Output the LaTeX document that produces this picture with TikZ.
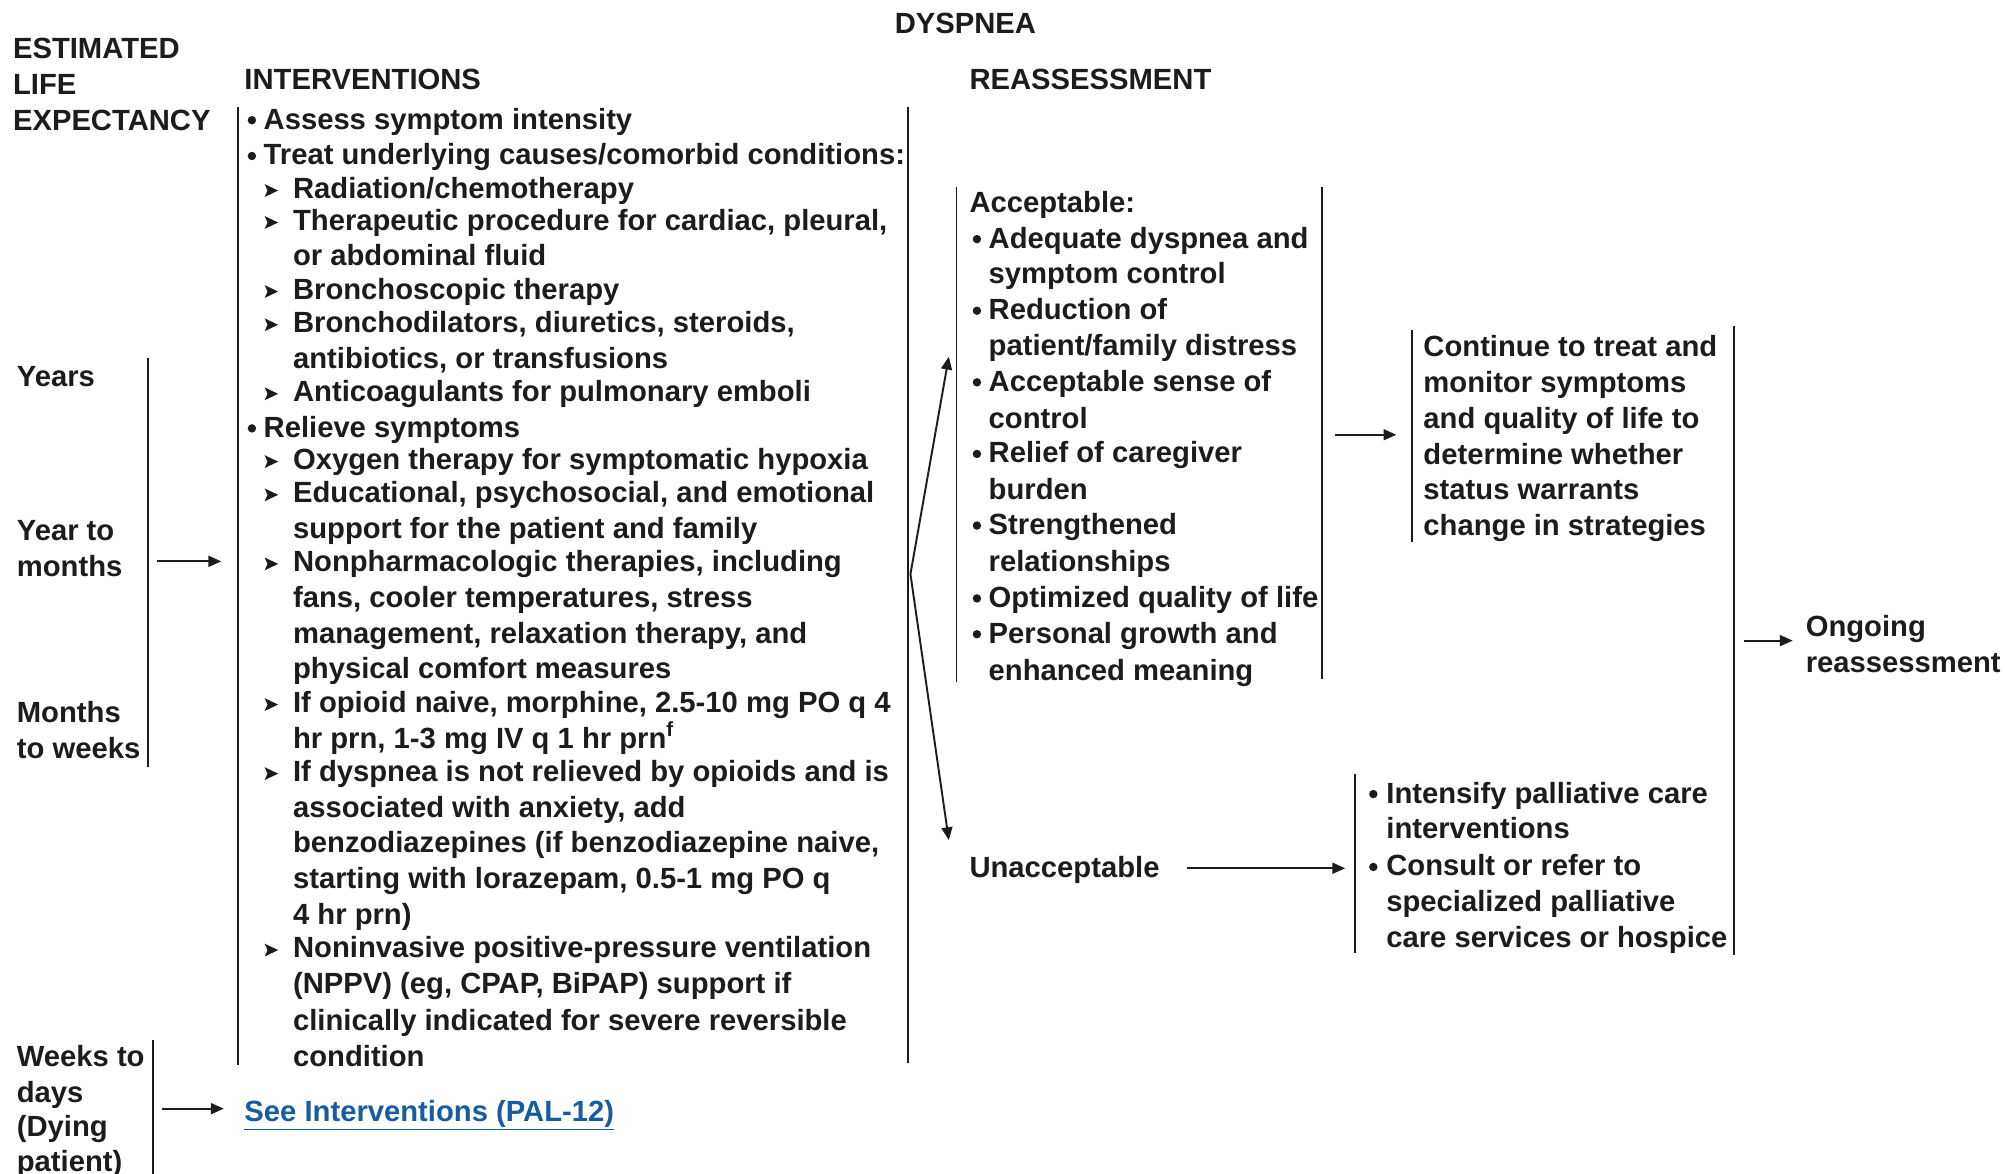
\documentclass[tikz,border=0pt]{standalone}
\usepackage{fontspec}
\setmainfont{Liberation Sans}
\usetikzlibrary{arrows.meta}
\definecolor{ink}{RGB}{30,27,28}
\definecolor{linkblue}{RGB}{22,92,160}
\tikzset{
  txt/.style={anchor=base west, inner sep=0pt, yshift=-8pt,
    font=\bfseries\fontsize{22.85}{28}\selectfont, text=ink},
  bar/.style={draw=ink, line width=1.5pt},
  flow/.style={draw=ink, line width=1.5pt, -{Triangle[length=10pt,width=8.5pt]}},
  subtip/.pic={\fill[ink] (-5,-5) -- (5.5,0) -- (-5,5) -- (-2.8,0) -- cycle;},
}
\newcommand\txtline[4]{\node[txt] (#1) at (#2,#3) {#4};}

\begin{document}
\begin{tikzpicture}[x=1pt,y=-1pt]
\useasboundingbox (0,0) rectangle (1568,918);

% headings
\node[txt, anchor=base] (title) at (755,18) {DYSPNEA};
\txtline{hEst}{10}{38}{ESTIMATED}
\txtline{hLife}{10}{66}{LIFE}
\txtline{hExp}{10}{94}{EXPECTANCY}
\txtline{hInt}{191}{62}{INTERVENTIONS}
\txtline{hRea}{758}{62}{REASSESSMENT}

% life expectancy column
\txtline{le1}{13}{294}{Years}
\txtline{le2}{13}{415}{Year to}
\txtline{le3}{13}{443}{months}
\txtline{le4}{13}{557}{Months}
\txtline{le5}{13}{585}{to weeks}
\txtline{le6}{13}{826}{Weeks to}
\txtline{le7}{13}{854}{days}
\txtline{le8}{13}{881}{(Dying}
\txtline{le9}{13}{908}{patient)}

% interventions
\foreach \x/\y/\t [count=\k] in {
  206/93/{Assess symptom intensity},
  206/121/{Treat underlying causes/comorbid conditions:},
  229/147/{Radiation/chemotherapy},
  229/172/{Therapeutic procedure for cardiac, pleural,},
  229/200/{or abdominal fluid},
  229/226/{Bronchoscopic therapy},
  229/252/{Bronchodilators, diuretics, steroids,},
  229/280/{antibiotics, or transfusions},
  229/306/{Anticoagulants for pulmonary emboli},
  206/334/{Relieve symptoms},
  229/359/{Oxygen therapy for symptomatic hypoxia},
  229/385/{Educational, psychosocial, and emotional},
  229/413/{support for the patient and family},
  229/439/{Nonpharmacologic therapies, including},
  229/467/{fans, cooler temperatures, stress},
  229/495/{management, relaxation therapy, and},
  229/523/{physical comfort measures},
  229/549/{If opioid naive, morphine, 2.5-10 mg PO q 4},
  229/577/{hr prn, 1-3 mg IV q 1 hr prn\textsuperscript{f}},
  229/603/{If dyspnea is not relieved by opioids and is},
  229/631/{associated with anxiety, add},
  229/659/{benzodiazepines (if benzodiazepine naive,},
  229/687/{starting with lorazepam, 0.5-1 mg PO q},
  229/715/{4 hr prn)},
  229/741/{Noninvasive positive-pressure ventilation},
  229/769/{(NPPV) (eg, CPAP, BiPAP) support if},
  229/798/{clinically indicated for severe reversible},
  229/826/{condition}}
  {\node[txt] (iv\k) at (\x,\y) {\t};}
\foreach \y in {93,121,334} \fill[ink] (197,\y+1) circle (3.3);
\foreach \y in {147,172,226,252,306,359,385,439,549,603,741}
  \pic at (212,\y+2) {subtip};

\node[txt, text=linkblue] (pal) at (191,869) {\underline{See Interventions (PAL-12)}};

% acceptable outcomes
\txtline{acc0}{758}{158}{Acceptable:}
\foreach \y/\t [count=\k] in {
  186/{Adequate dyspnea and}, 214/{symptom control},
  242/{Reduction of}, 270/{patient/family distress},
  298/{Acceptable sense of}, 327/{control},
  354/{Relief of caregiver}, 383/{burden},
  410/{Strengthened}, 439/{relationships},
  467/{Optimized quality of life},
  495/{Personal growth and}, 524/{enhanced meaning}}
  {\node[txt] (acc\k) at (773,\y) {\t};}
\foreach \y in {186,242,298,354,410,467,495} \fill[ink] (764,\y+1) circle (3.3);

% continue
\foreach \y/\t [count=\k] in {
  271/{Continue to treat and}, 299/{monitor symptoms},
  327/{and quality of life to}, 355/{determine whether},
  383/{status warrants}, 411/{change in strategies}}
  {\node[txt] (cont\k) at (1113,\y) {\t};}

\txtline{ong1}{1412}{490}{Ongoing}
\txtline{ong2}{1412}{518}{reassessment}

% unacceptable outcome
\txtline{unacc}{758}{678}{Unacceptable}
\foreach \y/\t [count=\k] in {
  620/{Intensify palliative care}, 648/{interventions},
  677/{Consult or refer to}, 705/{specialized palliative},
  733/{care services or hospice}}
  {\node[txt] (intens\k) at (1084,\y) {\t};}
\foreach \y in {620,677} \fill[ink] (1074,\y+1) circle (3.3);

% brackets
\coordinate (ivLT) at (186,84);   \coordinate (ivLB) at (186,833);
\coordinate (ivRT) at (710,84);   \coordinate (ivRB) at (710,831);
\coordinate (leAT) at (116,280);  \coordinate (leAB) at (116,600);
\coordinate (leBT) at (120,813);  \coordinate (leBB) at (120,918);
\coordinate (acLT) at (748,146);  \coordinate (acLB) at (748,533);
\coordinate (acRT) at (1034,146); \coordinate (acRB) at (1034,531);
\coordinate (coLT) at (1104,258); \coordinate (coLB) at (1104,424);
\coordinate (coRT) at (1356,255); \coordinate (coRB) at (1356,747);
\coordinate (inLT) at (1060,605); \coordinate (inLB) at (1060,745);
\foreach \a/\b in {ivLT/ivLB, ivRT/ivRB, leAT/leAB, leBT/leBB, acLT/acLB,
  acRT/acRB, coLT/coLB, coRT/coRB, inLT/inLB}
  \draw[bar] (\a) -- (\b);

% connectors
\coordinate (m1) at (123,439);  \coordinate (m2) at (173,439);
\coordinate (w1) at (127,867);  \coordinate (w2) at (175,867);
\coordinate (sp) at (712,449);
\coordinate (spA) at (742,279); \coordinate (spU) at (742,657);
\coordinate (c1) at (1044,340); \coordinate (c2) at (1092,340);
\coordinate (u1) at (928,679);  \coordinate (u2) at (1052,679);
\coordinate (o1) at (1364,501); \coordinate (o2) at (1402,501);
\draw[flow] (m1) -- (m2);
\draw[flow] (w1) -- (w2);
\draw[flow] (sp) -- (spA);
\draw[flow] (sp) -- (spU);
\draw[flow] (c1) -- (c2);
\draw[flow] (u1) -- (u2);
\draw[flow] (o1) -- (o2);
\end{tikzpicture}
\end{document}
